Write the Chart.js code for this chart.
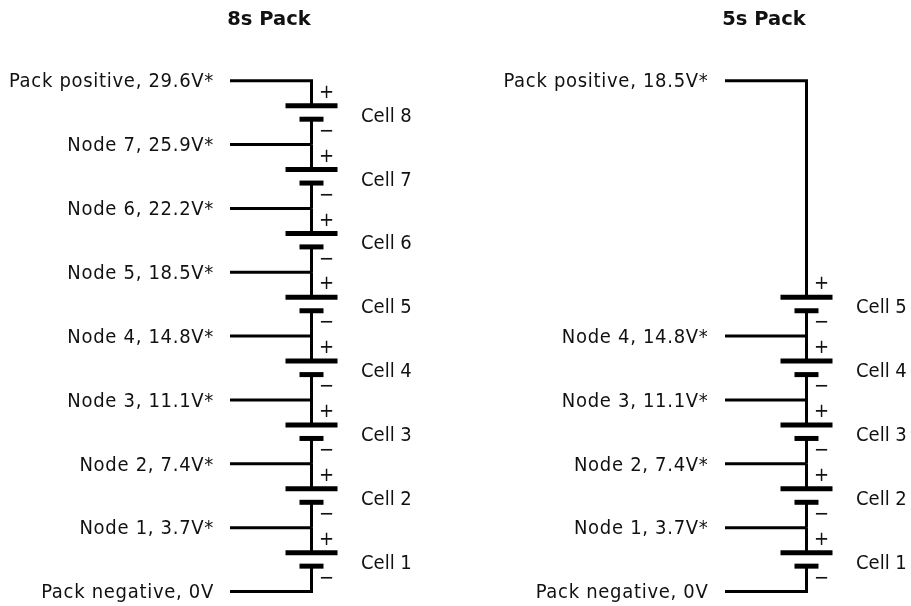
<!DOCTYPE html>
<html><head><meta charset="utf-8">
<script src="https://cdn.jsdelivr.net/npm/chart.js@4"></script>
<style>html,body{margin:0;padding:0;background:#fff}canvas{display:block}</style>
</head><body><canvas id="c" width="911" height="606"></canvas>
<script>
const packTitles = ['8s Pack', '5s Pack'];
const rows8 = [8, 7, 6, 5, 4, 3, 2, 1, 0];
const labels8 = ['Pack positive, 29.6V*', 'Node 7, 25.9V*', 'Node 6, 22.2V*', 'Node 5, 18.5V*', 'Node 4, 14.8V*', 'Node 3, 11.1V*', 'Node 2, 7.4V*', 'Node 1, 3.7V*', 'Pack negative, 0V'];
const cells8 = [8, 7, 6, 5, 4, 3, 2, 1];
const rows5 = [8, 4, 3, 2, 1, 0];
const labels5 = ['Pack positive, 18.5V*', 'Node 4, 14.8V*', 'Node 3, 11.1V*', 'Node 2, 7.4V*', 'Node 1, 3.7V*', 'Pack negative, 0V'];
const cells5 = [5, 4, 3, 2, 1];

const FONT = '"DejaVu Sans Condensed","DejaVu Sans",sans-serif';
const PX_PER_ROW = 63.85, ROW0_PX = 591.5;
const PLUS_OFF = 25 / PX_PER_ROW, MINUS_OFF = 38.5 / PX_PER_ROW;
const geoms = [
  {wire: 311.5, start: 230, labelEnd: 214, cellX: 361, titleX: 269, rows: rows8, labels: labels8, cells: cells8},
  {wire: 806.5, start: 725, labelEnd: 708.5, cellX: 856, titleX: 764, rows: rows5, labels: labels5, cells: cells5}
];
const seg = (x1, y1, x2, y2, w) => ({
  data: [{x: x1, y: y1}, {x: x2, y: y2}], borderColor: '#000', borderWidth: w,
  showLine: true, pointRadius: 0, borderCapStyle: 'butt', borderJoinStyle: 'miter', tension: 0, clip: false
});
const datasets = [];
geoms.forEach(g => {
  g.rows.forEach((r, i) => {
    const isEnd = i === 0 || i === g.rows.length - 1;
    datasets.push(seg(g.start, r, g.wire + (isEnd ? 1.5 : 0), r, 3));
  });
  g.cells.forEach((c, i) => {
    const top = i === 0 ? g.rows[0] : c;
    const plus = c - PLUS_OFF, minus = c - MINUS_OFF;
    datasets.push(seg(g.wire, top, g.wire, plus, 3));
    datasets.push(seg(g.wire - 26, plus, g.wire + 26, plus, 5));
    datasets.push(seg(g.wire - 12, minus, g.wire + 12, minus, 5));
    datasets.push(seg(g.wire, minus, g.wire, c - 1, 3));
  });
});
const textPlugin = {
  id: 'packText',
  afterDatasetsDraw(chart) {
    const {ctx, scales: {x, y}} = chart;
    const put = (t, px, py, align, font, sp) => {
      ctx.font = font; ctx.textAlign = align; ctx.textBaseline = 'middle';
      ctx.letterSpacing = (sp || 0) + 'px';
      ctx.fillStyle = '#111'; ctx.fillText(t, px, py);
    };
    const f = '20px ' + FONT;
    ctx.save();
    geoms.forEach((g, k) => {
      put(packTitles[k], x.getPixelForValue(g.titleX), 20, 'center', 'bold 19.5px "DejaVu Sans",sans-serif');
      g.rows.forEach((r, i) => put(g.labels[i], x.getPixelForValue(g.labelEnd), y.getPixelForValue(r) + 1.5, 'right', f, 0.7));
      g.cells.forEach(c => {
        const mid = y.getPixelForValue(c - 0.5);
        put('Cell ' + c, x.getPixelForValue(g.cellX), mid + 3.9, 'left', f);
        put('+', x.getPixelForValue(g.wire + 15), y.getPixelForValue(c - PLUS_OFF) - 13, 'center', f);
        put('\u2212', x.getPixelForValue(g.wire + 15), y.getPixelForValue(c - MINUS_OFF) + 12.5, 'center', f);
      });
    });
    ctx.restore();
  }
};
new Chart(document.getElementById('c'), {
  type: 'scatter',
  data: {datasets},
  plugins: [textPlugin],
  options: {
    responsive: false, animation: false, devicePixelRatio: 1,
    layout: {padding: 0},
    plugins: {legend: {display: false}, tooltip: {enabled: false}, title: {display: false}},
    scales: {
      x: {type: 'linear', display: false, min: 0, max: 911},
      y: {type: 'linear', display: false, min: -(606 - ROW0_PX) / PX_PER_ROW, max: ROW0_PX / PX_PER_ROW}
    }
  }
});
</script></body></html>
